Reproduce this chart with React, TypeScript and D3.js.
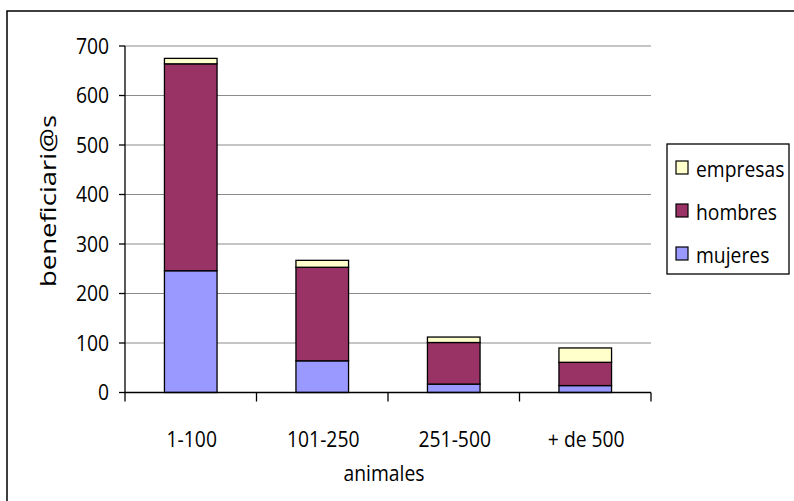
import React from "react";
import * as d3 from "d3";

const categories = ["1-100", "101-250", "251-500", "+ de 500"];
const mujeres = [246, 64, 17, 14];
const hombres = [418, 189, 84, 47];
const empresas = [11, 14, 11, 29];
const yTicks = [0, 100, 200, 300, 400, 500, 600, 700];

const seriesNames = ["mujeres", "hombres", "empresas"];
const legendOrder = ["empresas", "hombres", "mujeres"];
const seriesColors: Record<string, string> = {
  mujeres: "#9999FF",
  hombres: "#993366",
  empresas: "#FFFFCC",
};

const FONT = "'Open Sans', sans-serif";
const FS = 21;
const SX = 0.92;

// Text drawn with a slightly condensed horizontal scale
function Label({
  x,
  y,
  anchor = "start",
  children,
  dy,
}: {
  x: number;
  y: number;
  anchor?: string;
  children: React.ReactNode;
  dy?: string;
}) {
  return (
    <g transform={`translate(${x},${y}) scale(${SX},1)`}>
      <text x={0} y={0} dy={dy} textAnchor={anchor} fontSize={FS} fill="#000">
        {children}
      </text>
    </g>
  );
}

export default function App() {
  const width = 794;
  const height = 501;
  const x0 = 125, x1 = 651, yTop = 46, yBottom = 392.5;

  const x = d3.scaleBand<string>().domain(categories).range([x0, x1]).padding(0);
  const y = d3.scaleLinear().domain([0, 700]).range([yBottom, yTop]);
  const barW = x.bandwidth() * 0.4;

  const rows = categories.map((c, i) => ({
    cat: c,
    mujeres: mujeres[i],
    hombres: hombres[i],
    empresas: empresas[i],
  }));
  const stacked = d3.stack<any>().keys(seriesNames)(rows);

  return (
    <svg
      width={width}
      height={height}
      style={{ position: "absolute", left: 0, top: 0, background: "#fff" }}
      fontFamily={FONT}
    >
      <rect x={7} y={11} width={800} height={500} fill="#fff" stroke="#000" strokeWidth={1.5} />

      {/* gridlines */}
      {yTicks.filter((t) => t > 0).map((t) => (
        <line key={t} x1={x0} x2={x1} y1={y(t)} y2={y(t)} stroke="#8c8c8c" strokeWidth={1.2} />
      ))}

      {/* stacked bars */}
      {stacked.map((s) => (
        <g key={s.key}>
          {s.map((d, i) => (
            <rect
              key={i}
              x={x(categories[i])! + (x.bandwidth() - barW) / 2}
              y={y(d[1])}
              width={barW}
              height={y(d[0]) - y(d[1])}
              fill={seriesColors[s.key]}
              stroke="#000"
              strokeWidth={1.3}
            />
          ))}
        </g>
      ))}

      {/* y axis */}
      <line x1={x0} x2={x0} y1={yTop} y2={yBottom} stroke="#000" strokeWidth={1.3} />
      {yTicks.map((t) => (
        <g key={t}>
          <line x1={x0 - 6} x2={x0} y1={y(t)} y2={y(t)} stroke="#000" strokeWidth={1.3} />
          <Label x={x0 - 16} y={y(t)} dy="0.36em" anchor="end">
            {t}
          </Label>
        </g>
      ))}

      {/* x axis */}
      <line x1={x0} x2={x1} y1={yBottom} y2={yBottom} stroke="#000" strokeWidth={1.3} />
      {[...categories.map((c) => x(c)!), x1].map((px, i) => (
        <line key={i} x1={px} x2={px} y1={yBottom} y2={yBottom + 9} stroke="#000" strokeWidth={1.3} />
      ))}
      {categories.map((c) => (
        <Label key={c} x={x(c)! + x.bandwidth() / 2 + 1} y={446.5} anchor="middle">
          {c}
        </Label>
      ))}

      {/* axis titles */}
      <Label x={(x0 + x1) / 2 - 4} y={481} anchor="middle">
        animales
      </Label>
      <g transform="translate(56,201) rotate(-90) scale(1.25,1)">
        <text x={0} y={0} textAnchor="middle" fontSize={22} fill="#000">
          beneficiari@s
        </text>
      </g>

      {/* legend */}
      <rect x={667} y={144} width={122} height={130} fill="#fff" stroke="#000" strokeWidth={1.3} />
      {legendOrder.map((k, i) => (
        <g key={k}>
          <rect
            x={676}
            y={161 + i * 43}
            width={12}
            height={13}
            fill={seriesColors[k]}
            stroke="#000"
            strokeWidth={1.2}
          />
          <Label x={696} y={176.5 + i * 43}>
            {k}
          </Label>
        </g>
      ))}
    </svg>
  );
}
